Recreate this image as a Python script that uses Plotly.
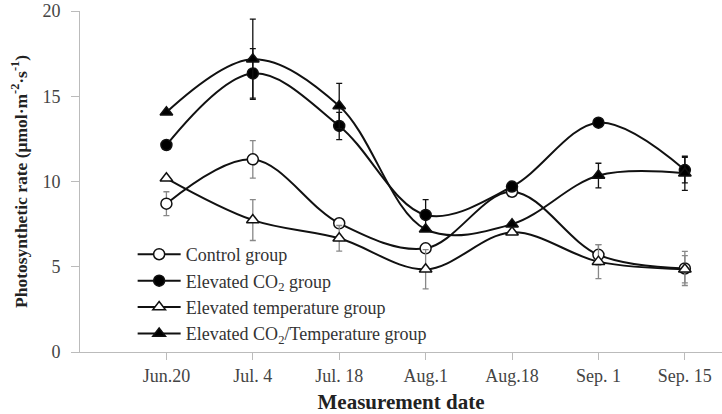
import plotly.graph_objects as go

dates = ["Jun.20", "Jul. 4", "Jul. 18", "Aug.1", "Aug.18", "Sep. 1", "Sep. 15"]

control = [8.7, 11.3, 7.55, 6.08, 9.4, 5.7, 4.9]
control_err = [0.7, 1.1, 0.0, 0.0, 0.0, 0.6, 1.0]

co2 = [12.14, 16.34, 13.26, 8.04, 9.7, 13.45, 10.67]
co2_err = [0.0, 1.45, 0.8, 0.9, 0.0, 0.0, 0.75]

temp = [10.19, 7.74, 6.67, 4.85, 7.02, 5.3, 4.85]
temp_err = [0.0, 1.2, 0.75, 1.15, 0.0, 1.0, 0.8]

co2_temp = [14.06, 17.17, 14.43, 7.2, 7.5, 10.35, 10.48]
co2_temp_err = [0.0, 2.35, 1.33, 0.0, 0.0, 0.72, 1.0]

x = list(range(len(dates)))

series = [
    ("Control group", control, control_err, "circle", "white", "#888888"),
    ("Elevated CO<sub>2</sub> group", co2, co2_err, "circle", "black", "#111111"),
    ("Elevated temperature group", temp, temp_err, "triangle-up", "white", "#888888"),
    ("Elevated CO<sub>2</sub>/Temperature group", co2_temp, co2_temp_err, "triangle-up", "black", "#111111"),
]

fig = go.Figure()
for name, ys, errs, sym, fill, ecol in series:
    fig.add_trace(go.Scatter(
        x=x, y=ys, name=name, mode="lines+markers",
        line=dict(color="#111111", width=2, shape="spline", smoothing=1.0),
        marker=dict(symbol=sym, size=11, color=fill,
                    line=dict(color="#111111", width=1.5)),
        error_y=dict(type="data", array=errs, visible=True,
                     color=ecol, thickness=1.3, width=3),
    ))

font_family = "Liberation Serif, Times New Roman, serif"

fig.update_layout(
    width=722, height=414,
    margin=dict(l=80, r=0, t=11, b=62),
    paper_bgcolor="white", plot_bgcolor="white",
    font=dict(family=font_family, color="#333333", size=14),
    showlegend=True,
    legend=dict(
        x=0.082, y=0.17, xanchor="left", yanchor="middle",
        bgcolor="rgba(0,0,0,0)", font=dict(family=font_family, size=18, color="#333333"),
        tracegroupgap=0, itemwidth=43,
    ),
    xaxis=dict(
        tickmode="array", tickvals=x, ticktext=dates,
        range=[-1.0, 6.43], showgrid=False, zeroline=False,
        showline=True, linecolor="#bbbbbb", linewidth=1,
        ticks="outside", ticklen=7, tickcolor="#bbbbbb",
        tickfont=dict(size=18, color="#444444"),
        title=dict(text="<b>Measurement date</b>", font=dict(size=21, color="#222222"), standoff=12),
    ),
    yaxis=dict(
        range=[0, 20], tickvals=[0, 5, 10, 15, 20],
        showgrid=False, zeroline=False,
        showline=True, linecolor="#bbbbbb", linewidth=1,
        ticks="outside", ticklen=8, tickcolor="#bbbbbb",
        ticklabelstandoff=7,
        tickfont=dict(size=18, color="#444444"),
        title=dict(text="<b>Photosynthetic rate (μmol·m<sup>-2</sup>·s<sup>-1</sup>)</b>",
                   font=dict(size=17.5, color="#222222"), standoff=10),
    ),
)

fig.write_html("out.html")
